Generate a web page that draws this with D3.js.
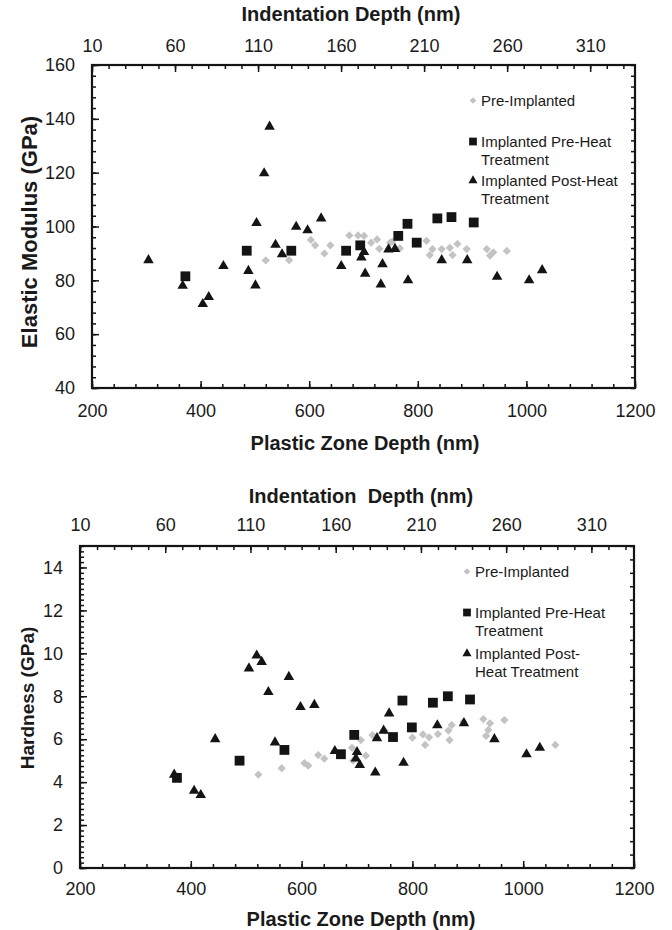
<!DOCTYPE html>
<html lang="en">
<head>
<meta charset="UTF-8">
<title>Modulus and hardness vs plastic zone depth</title>
<style>
  body { margin: 0; background: #fff; }
  svg text { font-family: "Liberation Sans", Arial, sans-serif; fill: #1a1a1a; }
</style>
</head>
<body>
<div id="chart"></div>
<script src="https://d3js.org/d3.v7.min.js"></script>
<script>
// ---- data: [plastic zone depth (nm), value] ----
var modPre = [[520,87.4],[563,87.5],[603,95],[611,93],[628,90],[639,93],[674,96.7],[690,96.7],[701,96.5],
  [714,94],[725,95.2],[729,91.7],[749,94],[753,94.4],[767,91.9],[816,94.7],[822,89.4],[827,91.6],[844,91.6],
  [859,92.1],[864,89.4],[873,93.5],[890,91.6],[927,91.6],[933,89.2],[939,90.4],[964,90.9]];
var modImplPre = [[372,81.5],[485,91],[567,91],[668,91],[694,93],[764,96.5],[781,101],[798,94],[836,103],
  [862,103.5],[903,101.5]];
var modImplPost = [[304,87.5],[367,78],[404,71.2],[415,73.8],[442,85.3],[488,83.5],[501,78.1],[503,101.3],
  [517,119.8],[527,137.1],[538,93.2],[550,89.7],[576,99.9],[597,98.6],[622,103],[659,85.3],[696,88.5],
  [701,90.5],[703,82.5],[732,78.5],[735,86],[746,91.5],[758,91.7],[782,80],[844,87.5],[891,87.5],
  [946,81.3],[1005,80],[1029,83.8]];

var hardPre = [[522,4.35],[564,4.65],[605,4.88],[612,4.77],[630,5.26],[641,5.09],[691,5.6],[693,5.0],
  [707,5.96],[716,5.23],[728,6.19],[750,6.4],[800,6.07],[819,6.22],[823,5.73],[830,6.09],[846,6.24],
  [865,6.4],[867,5.96],[871,6.66],[892,6.81],[928,6.94],[933,6.15],[937,6.43],[940,6.74],[966,6.89],[1058,5.73]];
var hardImplPre = [[375,4.2],[488,5.0],[569,5.5],[671,5.3],[695,6.2],[765,6.1],[782,7.8],[799,6.55],
  [837,7.7],[864,8.0],[904,7.85]];
var hardImplPost = [[370,4.35],[406,3.6],[418,3.4],[444,6.0],[505,9.3],[519,9.9],[528,9.6],[540,8.2],
  [552,5.85],[577,8.9],[598,7.5],[623,7.6],[660,5.45],[698,5.1],[700,5.4],[705,4.8],[733,4.45],[736,6.05],
  [748,6.4],[758,7.2],[784,4.9],[845,6.65],[893,6.75],[948,6.0],[1006,5.3],[1030,5.6]];

var plasticTicks = [200,400,600,800,1000,1200];
var indentTicks = [10,60,110,160,210,260,310];
var modTicks = [40,60,80,100,120,140,160];
var hardTicks = [0,2,4,6,8,10,12,14];

var legendTop = [["Pre-Implanted"],["Implanted Pre-Heat","Treatment"],["Implanted Post-Heat","Treatment"]];
var legendBottom = [["Pre-Implanted"],["Implanted Pre-Heat","Treatment"],["Implanted Post-","Heat Treatment"]];

// ---- drawing ----
var svg = d3.select("#chart").append("svg")
  .attr("width", 672)
  .attr("height", 930);
svg.append("rect").attr("width", 672).attr("height", 930).attr("fill", "#fff");

var grey = "#c3c3c3", black = "#141414";

function marker(kind, size) {
  if (kind == "diamond") return d3.symbol().type(d3.symbolSquare).size(size)();
  if (kind == "square") return d3.symbol().type(d3.symbolSquare).size(size)();
  return d3.symbol().type(d3.symbolTriangle).size(size)();
}

function panel(o) {
  var g = svg.append("g");
  var x = d3.scaleLinear().domain([200, 1200]).range([o.left, o.right]);
  var x2 = d3.scaleLinear().domain([10, o.indentMax]).range([o.left, o.right]);
  var y = d3.scaleLinear().domain(o.yDomain).range([o.bottom, o.top]);

  // bottom axis
  g.append("g").attr("transform", "translate(0," + o.bottom + ")")
    .call(d3.axisBottom(x).tickValues(d3.range(200, 1201, 40)).tickSize(-4).tickFormat(""));
  g.append("g").attr("transform", "translate(0," + o.bottom + ")")
    .call(d3.axisBottom(x).tickValues(plasticTicks).tickSize(-7).tickPadding(o.bottomPad).tickFormat(d3.format("d")));
  // top axis (indentation depth)
  g.append("g").attr("transform", "translate(0," + o.top + ")")
    .call(d3.axisTop(x2).tickValues(d3.range(10, o.indentMax, 10)).tickSize(-4).tickFormat(""));
  g.append("g").attr("transform", "translate(0," + o.top + ")")
    .call(d3.axisTop(x2).tickValues(indentTicks).tickSize(-7).tickPadding(o.topPad).tickFormat(d3.format("d")));
  // left axis
  g.append("g").attr("transform", "translate(" + o.left + ",0)")
    .call(d3.axisLeft(y).tickValues(d3.range(o.yDomain[0], o.yDomain[1] + 0.001, o.yMinor)).tickSize(-4).tickFormat(""));
  g.append("g").attr("transform", "translate(" + o.left + ",0)")
    .call(d3.axisLeft(y).tickValues(o.yTicks).tickSize(-7).tickPadding(o.leftPad).tickFormat(d3.format("d")));
  // right axis, ticks only
  g.append("g").attr("transform", "translate(" + o.right + ",0)")
    .call(d3.axisRight(y).tickValues(d3.range(o.yDomain[0], o.yDomain[1] + 0.001, o.yRight)).tickSize(-4).tickFormat(""));

  g.selectAll(".domain").remove();
  g.selectAll(".tick line").attr("stroke", black).attr("stroke-width", 1.5);
  g.selectAll(".tick text").attr("font-size", 18);

  g.append("rect")
    .attr("x", o.left).attr("y", o.top)
    .attr("width", o.right - o.left).attr("height", o.bottom - o.top)
    .attr("fill", "none").attr("stroke", black).attr("stroke-width", 2.2);

  // points
  g.append("g").selectAll("path").data(o.pre).join("path")
    .attr("d", marker("diamond", 34))
    .attr("transform", function(d) { return "translate(" + x(d[0]) + "," + y(d[1]) + ") rotate(45)"; })
    .attr("fill", grey);
  g.append("g").selectAll("path").data(o.implPre).join("path")
    .attr("d", marker("square", 96))
    .attr("transform", function(d) { return "translate(" + x(d[0]) + "," + y(d[1]) + ")"; })
    .attr("fill", black);
  g.append("g").selectAll("path").data(o.implPost).join("path")
    .attr("d", marker("triangle", 48))
    .attr("transform", function(d) { return "translate(" + x(d[0]) + "," + y(d[1]) + ")"; })
    .attr("fill", black);

  // legend
  var kinds = ["diamond", "square", "triangle"];
  var sizes = [22, 60, 36];
  o.legend.forEach(function(lines, i) {
    var base = o.legRows[i];
    var p = g.append("path")
      .attr("d", marker(kinds[i], sizes[i]))
      .attr("fill", i == 0 ? grey : black)
      .attr("transform", "translate(" + o.legX + "," + (base - 5) + ")" + (i == 0 ? " rotate(45)" : ""));
    lines.forEach(function(t, j) {
      g.append("text")
        .attr("x", o.legX + 8).attr("y", base + j * 18.5)
        .attr("font-size", 15)
        .text(t);
    });
  });

  // titles
  g.append("text")
    .attr("x", o.topTitle[0]).attr("y", o.topTitle[1])
    .attr("text-anchor", "middle").attr("font-size", 20).attr("font-weight", "bold")
    .style("white-space", "pre")
    .text(o.topTitleText);
  g.append("text")
    .attr("x", o.bottomTitle[0]).attr("y", o.bottomTitle[1])
    .attr("text-anchor", "middle").attr("font-size", 20).attr("font-weight", "bold")
    .text("Plastic Zone Depth (nm)");
  g.append("text")
    .attr("transform", "translate(" + o.yTitle[0] + "," + o.yTitle[1] + ") rotate(-90)")
    .attr("text-anchor", "middle").attr("dy", "0.35em")
    .attr("font-size", o.yTitleSize).attr("font-weight", "bold")
    .text(o.yTitleText);
}

panel({
  left: 92, right: 635, top: 65, bottom: 388,
  yDomain: [40, 160], yTicks: modTicks, yMinor: 4, yRight: 4,
  indentMax: 337,
  bottomPad: 16, topPad: 13, leftPad: 17,
  pre: modPre, implPre: modImplPre, implPost: modImplPost,
  legend: legendTop, legX: 473, legRows: [105.5, 146.5, 185.5],
  topTitleText: "Indentation Depth (nm)", topTitle: [351, 21],
  bottomTitle: [365, 450],
  yTitleText: "Elastic Modulus (GPa)", yTitle: [29, 232], yTitleSize: 22
});

panel({
  left: 80, right: 634, top: 546, bottom: 868,
  yDomain: [0, 15], yTicks: hardTicks, yMinor: 0.25, yRight: 0.625,
  indentMax: 335,
  bottomPad: 14, topPad: 15, leftPad: 17,
  pre: hardPre, implPre: hardImplPre, implPost: hardImplPost,
  legend: legendBottom, legX: 467, legRows: [576.5, 617.5, 658.5],
  topTitleText: "Indentation  Depth (nm)", topTitle: [361, 503],
  bottomTitle: [361, 926],
  yTitleText: "Hardness (GPa)", yTitle: [27, 698], yTitleSize: 19
});
</script>
</body>
</html>
